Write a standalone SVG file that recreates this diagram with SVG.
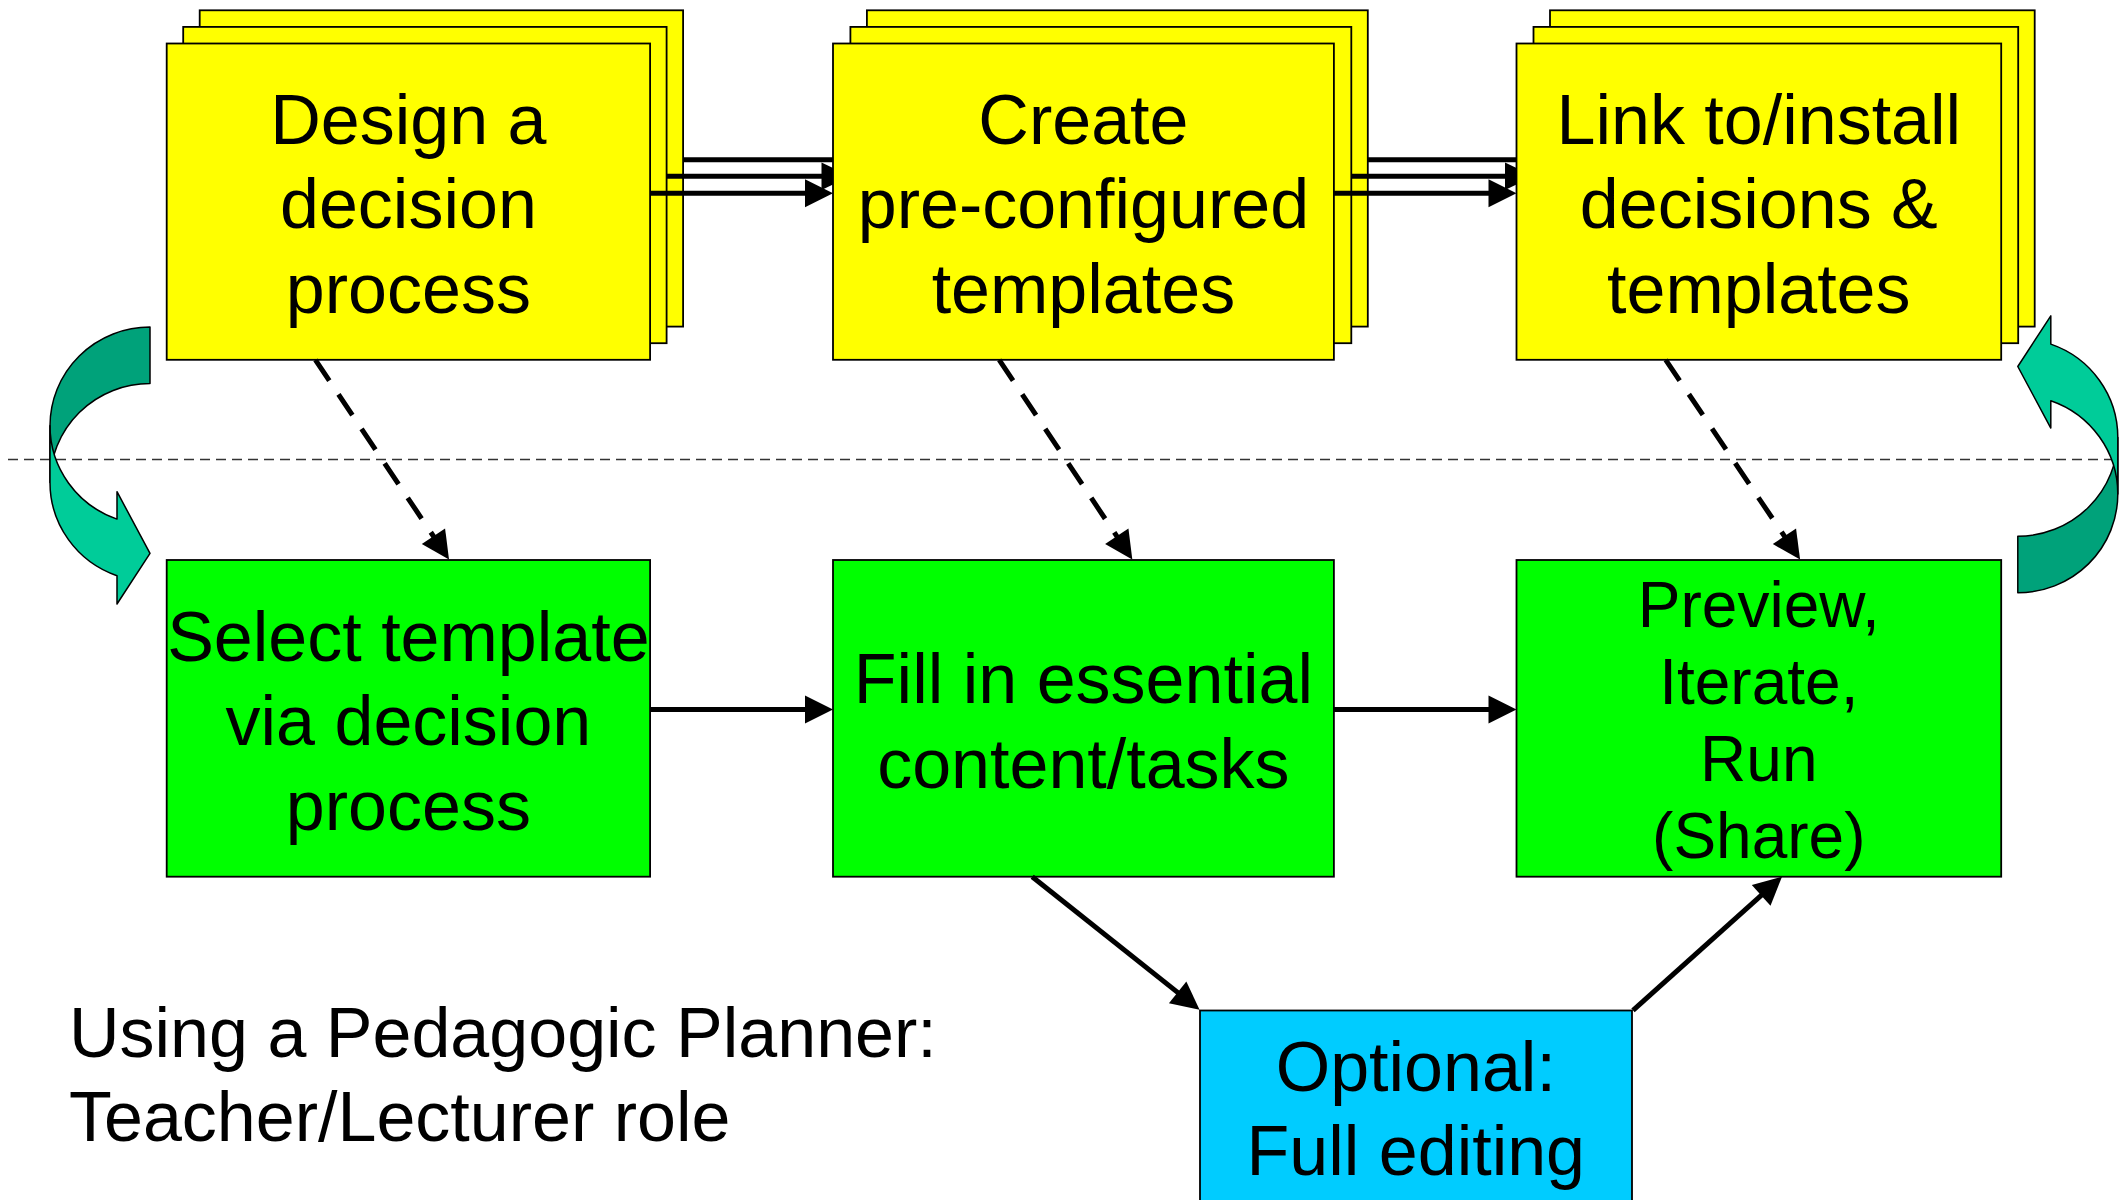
<svg xmlns="http://www.w3.org/2000/svg" xmlns:xlink="http://www.w3.org/1999/xlink" width="2127" height="1200" viewBox="0 0 2127 1200">
<defs>
<style>
.y{fill:#FFFF00;stroke:#000;stroke-width:1.8}
.g{fill:#00FF00;stroke:#000;stroke-width:1.8}
.b{fill:#00CCFF;stroke:#000;stroke-width:1.8}
.t{font-family:"Liberation Sans",Arial,Helvetica,sans-serif;font-size:70px;fill:#000;text-anchor:middle}
.s{font-size:64px}
.cap{text-anchor:start}
.c{fill:none;stroke:#000;stroke-width:5}
.d{stroke-dasharray:25 16.5}
.sep{fill:none;stroke:#333;stroke-width:1.6;stroke-dasharray:10 6}
.dk{fill:#00A27A;stroke:#000;stroke-width:1.5;stroke-linejoin:round}
.lt{fill:#00CC99;stroke:#000;stroke-width:1.5;stroke-linejoin:round}
.hd{fill:#000}
</style>
<marker id="ah" markerUnits="userSpaceOnUse" markerWidth="30" markerHeight="30" refX="8" refY="14" orient="auto" overflow="visible">
<path d="M0,0 L28,14 L0,28 Z" fill="#000"/>
</marker>
<g id="curve">
<path class="dk" d="M150,327 A100,98.8 0 0 0 50,425.8 L50,482.4 A100,98.8 0 0 1 150,383.6 Z"/>
<path class="lt" d="M50,425.8 A100,98.8 0 0 0 117,519.1 L117,491.7 L150,553.3 L117,604 L117,575.7 A100,98.8 0 0 1 50,482.4 Z"/>
</g>
</defs>
<rect width="2127" height="1200" fill="#fff"/>
<line class="sep" x1="8" y1="459.5" x2="2120" y2="459.5"/>
<g id="loop-left"><use xlink:href="#curve" href="#curve"/></g>
<g id="loop-right"><use xlink:href="#curve" href="#curve" transform="rotate(180 1083.9 459.9)"/></g>

<g id="design">
<rect class="y" x="199.7" y="10.3" width="483.4" height="316.3"/>
<rect class="y" x="183.2" y="26.9" width="483.4" height="316.3"/>
<rect class="y" x="166.7" y="43.5" width="483.4" height="316.3"/>
<text class="t"><tspan x="408.4" y="143.5">Design a</tspan><tspan x="408.4" y="228">decision</tspan><tspan x="408.4" y="312.5">process</tspan></text>
</g>
<g id="create">
<rect class="y" x="866.9" y="10.3" width="500.9" height="316.3"/>
<rect class="y" x="850.4" y="26.9" width="500.9" height="316.3"/>
<rect class="y" x="833" y="43.5" width="500.9" height="316.3"/>
<text class="t"><tspan x="1083.4" y="143.5">Create</tspan><tspan x="1083.4" y="228">pre-configured</tspan><tspan x="1083.4" y="312.5">templates</tspan></text>
</g>
<g id="link">
<rect class="y" x="1550" y="10.3" width="484.7" height="316.3"/>
<rect class="y" x="1533.5" y="26.9" width="484.7" height="316.3"/>
<rect class="y" x="1516.5" y="43.5" width="484.7" height="316.3"/>
<text class="t"><tspan x="1758.8" y="143.5">Link to/install</tspan><tspan x="1758.8" y="228">decisions &amp;</tspan><tspan x="1758.8" y="312.5">templates</tspan></text>
</g>
<g id="select">
<rect class="g" x="166.7" y="560" width="483.4" height="316.7"/>
<text class="t"><tspan x="408.4" y="661.2">Select template</tspan><tspan x="408.4" y="745.4">via decision</tspan><tspan x="408.4" y="829.6">process</tspan></text>
</g>
<g id="fill">
<rect class="g" x="833" y="560" width="500.9" height="316.7"/>
<text class="t"><tspan x="1083.4" y="702.5">Fill in essential</tspan><tspan x="1083.4" y="787.5">content/tasks</tspan></text>
</g>
<g id="preview">
<rect class="g" x="1516.5" y="560" width="484.7" height="316.7"/>
<text class="t s"><tspan x="1758.8" y="627">Preview,</tspan><tspan x="1758.8" y="704">Iterate,</tspan><tspan x="1758.8" y="781">Run</tspan><tspan x="1758.8" y="858">(Share)</tspan></text>
</g>
<g id="optional">
<rect class="b" x="1200" y="1010.5" width="432" height="220"/>
<text class="t"><tspan x="1415.8" y="1091.2">Optional:</tspan><tspan x="1415.8" y="1174.7">Full editing</tspan></text>
</g>
<g id="caption">
<text class="t cap"><tspan x="69" y="1056.8">Using a Pedagogic Planner:</tspan><tspan x="69" y="1141">Teacher/Lecturer role</tspan></text>
</g>

<g id="connectors">
<line class="c" x1="684" y1="159.7" x2="833" y2="159.7"/>
<line class="c" x1="667" y1="176.2" x2="822" y2="176.2"/>
<polygon class="hd" points="821.5,162.4 833,168 833,184.4 821.5,190"/>
<line class="c" x1="650" y1="193.2" x2="813" y2="193.2" marker-end="url(#ah)"/>
<line class="c" x1="1367.8" y1="159.7" x2="1516.5" y2="159.7"/>
<line class="c" x1="1351.3" y1="176.2" x2="1505.5" y2="176.2"/>
<polygon class="hd" points="1505,162.4 1516.5,168 1516.5,184.4 1505,190"/>
<line class="c" x1="1334" y1="193.2" x2="1496.5" y2="193.2" marker-end="url(#ah)"/>
<line class="c d" x1="315.4" y1="359.8" x2="437.9" y2="542.9" marker-end="url(#ah)"/>
<line class="c d" x1="999.2" y1="359.8" x2="1121.2" y2="542.9" marker-end="url(#ah)"/>
<line class="c d" x1="1665.7" y1="359.8" x2="1788.9" y2="542.9" marker-end="url(#ah)"/>
<line class="c" x1="650.1" y1="709.6" x2="813" y2="709.6" marker-end="url(#ah)"/>
<line class="c" x1="1334" y1="709.6" x2="1496.5" y2="709.6" marker-end="url(#ah)"/>
<line class="c" x1="1032.2" y1="876.7" x2="1183.9" y2="997.4" marker-end="url(#ah)"/>
<line class="c" x1="1633" y1="1010.3" x2="1767.1" y2="890.1" marker-end="url(#ah)"/>
</g>
</svg>
